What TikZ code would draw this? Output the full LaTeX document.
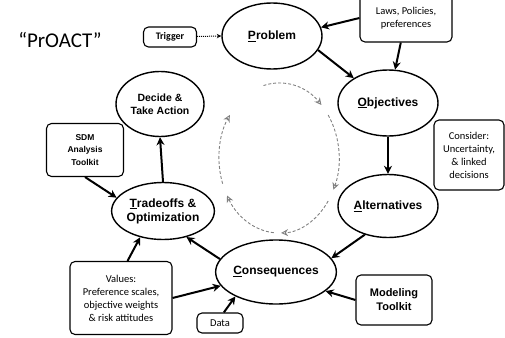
\documentclass[tikz,border=0pt]{standalone}
\usepackage{fontspec}
\setmainfont{Carlito}
\newfontfamily\headfont{Liberation Sans}
\usetikzlibrary{shapes.geometric}
\usetikzlibrary{arrows.meta}
\tikzset{%
  flowarrow/.style = {-{Stealth[length=8pt,width=8pt]}, line width=2pt},
  triggerarrow/.style = {-stealth, densely dotted, line width=1pt},
  cyclearrow/.style = {-{Stealth[length=7pt,width=7pt,open]}, gray, densely dashed, line width=0.9pt},
  stage/.style = {ellipse, draw, line width=1.4pt, inner sep=0pt, align=center,
        font=\headfont\bfseries\fontsize{12}{14}\selectfont},
  note/.style = {rectangle, rounded corners=5pt, draw, line width=1.1pt,
        inner sep=1pt, align=center, font=\fontsize{10.5}{13}\selectfont},
  toolbox/.style = {note, font=\headfont\bfseries\fontsize{11}{14}\selectfont}
}
\begin{document}
\begin{tikzpicture}[x=1pt,y=-1pt]
   \useasboundingbox (0,0) rectangle (505,337);
   \node[font=\fontsize{21}{24}\selectfont] (title) at (60,40) {“PrOACT”};
   % stages of the cycle
   \node[stage, minimum width=100pt, minimum height=66pt] (problem) at (272,36) {\underline{P}roblem};
   \node[stage, minimum width=100pt, minimum height=66pt] (objectives) at (388,103) {\underline{O}bjectives};
   \node[stage, minimum width=100pt, minimum height=63pt] (alternatives) at (388,206) {\underline{A}lternatives};
   \node[stage, minimum width=98pt, minimum height=64pt] (consequences) at (276,272) {\underline{C}onsequences};
   \node[stage, minimum width=100pt, minimum height=57pt] (tradeoffs) at (163,211) {\underline{T}radeoffs \&\\Optimization};
   \node[stage, minimum width=88pt, minimum height=65pt,
         font=\headfont\bfseries\fontsize{10.5}{13}\selectfont] (decide) at (160,104) {Decide \&\\Take Action};
   % side boxes
   \node[note, font=\bfseries\fontsize{10}{12}\selectfont, minimum width=53pt, minimum height=20pt] (trigger) at (170,37) {Trigger};
   \node[note, minimum width=92pt, minimum height=48pt] (laws) at (406,18) {Laws, Policies,\\preferences};
   \node[note, minimum width=70pt, minimum height=70pt] (consider) at (469,155) {Consider:\\Uncertainty,\\\& linked\\decisions};
   \node[toolbox, minimum width=76pt, minimum height=50pt] (modeling) at (394,300) {Modeling\\Toolkit};
   \node[note, minimum width=46pt, minimum height=20pt] (data) at (220,323) {Data};
   \node[note, minimum width=102pt, minimum height=73pt] (values) at (121,298) {Values:\\Preference scales,\\objective weights\\\& risk attitudes};
   \node[toolbox, font=\headfont\bfseries\fontsize{8.5}{12.5}\selectfont, minimum width=77pt, minimum height=53pt] (sdm) at (85,150) {SDM\\Analysis\\Toolkit};
   % connectors
   \draw[triggerarrow] (trigger) -- (problem.west);
   \draw[flowarrow] (laws.west) -- (problem.10);
   \draw[flowarrow] (laws.258) -- (objectives.78);
   \draw[flowarrow] (problem.-17) -- (objectives.144);
   \draw[flowarrow] (objectives.south) -- (alternatives.north);
   \draw[flowarrow] (alternatives.231) -- (consequences.14);
   \draw[flowarrow] (modeling.west) -- (consequences.-21);
   \draw[flowarrow] (data.70) -- (consequences.211);
   \draw[flowarrow] (values.east) -- (consequences.194);
   \draw[flowarrow] (values.80) -- (tradeoffs.229);
   \draw[flowarrow] (consequences.167) -- (tradeoffs.-48);
   \draw[flowarrow] (sdm.south) -- (tradeoffs.164);
   \draw[flowarrow] (tradeoffs.north) -- (decide.south);
   % cycle in the middle
   \draw[cyclearrow] (279,158) ++(-105:60 and 75) arc[start angle=-105, end angle=-45, x radius=60, y radius=75];
   \draw[cyclearrow] (279,158) ++(-35:60 and 75) arc[start angle=-35, end angle=25, x radius=60, y radius=75];
   \draw[cyclearrow] (279,158) ++(35:60 and 75) arc[start angle=35, end angle=88, x radius=60, y radius=75];
   \draw[cyclearrow] (279,158) ++(95:60 and 75) arc[start angle=95, end angle=150, x radius=60, y radius=75];
   \draw[cyclearrow] (279,158) ++(160:60 and 75) arc[start angle=160, end angle=215, x radius=60, y radius=75];
\end{tikzpicture}
\end{document}
